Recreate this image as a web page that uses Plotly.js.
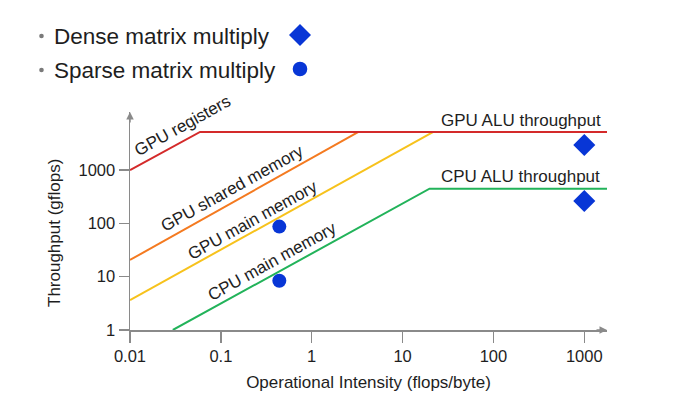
<!DOCTYPE html>
<html>
<head>
<meta charset="utf-8">
<script src="https://cdn.plot.ly/plotly-3.0.1.min.js"></script>
<style>html,body{margin:0;padding:0;background:#fff;}#chart{width:683px;height:420px;}</style>
</head>
<body>
<div id="chart"></div>
<script>
// ---- Data (log-log roofline) ----
const gpuRegistersX = [0.01, 0.059, 1800];
const gpuRegistersY = [1000, 5200, 5200];
const gpuSharedX = [0.01, 3.27];
const gpuSharedY = [20.6, 5200];
const gpuMainX = [0.01, 21.8];
const gpuMainY = [3.65, 5200];
const cpuMainX = [0.0296, 19.8, 1800];
const cpuMainY = [1, 447, 447];
const sparseX = [0.44, 0.44];
const sparseY = [87, 8.4];
const denseX = [1000, 1000];
const denseY = [2950, 263];
const xTickVals = [0.01, 0.1, 1, 10, 100, 1000];
const xTickText = ['0.01', '0.1', '1', '10', '100', '1000'];
const yTickVals = [1, 10, 100, 1000];
const yTickText = ['1', '10', '100', '1000'];
const legendLabels = ['Dense matrix multiply', 'Sparse matrix multiply'];
const lineLabels = ['GPU registers', 'GPU shared memory', 'GPU main memory', 'CPU main memory', 'GPU ALU throughput', 'CPU ALU throughput'];

const FONT = 'Liberation Sans, Arial, sans-serif';
const AX = '#8a8a8a';
const BLUE = '#0836d6';
const TXT = '#1e1e1e';

function line(x, y, color) {
  return {x: x, y: y, type: 'scatter', mode: 'lines', line: {color: color, width: 2}, hoverinfo: 'skip', showlegend: false};
}
const traces = [
  line(gpuSharedX, gpuSharedY, '#f47a20'),
  line(gpuMainX, gpuMainY, '#f7c21c'),
  line(gpuRegistersX, gpuRegistersY, '#d42a2a'),
  line(cpuMainX, cpuMainY, '#22b35a'),
  {x: sparseX, y: sparseY, type: 'scatter', mode: 'markers', marker: {symbol: 'circle', size: 14, color: BLUE}, name: legendLabels[1], showlegend: false, cliponaxis: false},
  {x: denseX, y: denseY, type: 'scatter', mode: 'markers', marker: {symbol: 'diamond', size: 17, color: BLUE}, name: legendLabels[0], showlegend: false, cliponaxis: false}
];

// pixel helpers for layout placement (plot area: x 130..607, y 112..330)
const L = 130, R = 607, T = 112, B = 330;
const px = v => (v - L) / (R - L);
const py = v => (B - v) / (B - T);

function lbl(text, xl, yl, angle, size) {
  return {text: text, x: xl, y: yl, xref: 'x', yref: 'y', showarrow: false, textangle: angle,
          font: {family: FONT, size: size, color: TXT}, xanchor: 'center', yanchor: 'middle'};
}
const annotations = [
  lbl(lineLabels[0], -1.417, 3.844, -29, 17),
  lbl(lineLabels[1], -0.877, 2.663, -29, 17),
  lbl(lineLabels[2], -0.657, 2.063, -29, 17),
  lbl(lineLabels[3], -0.437, 1.294, -29, 17),
  lbl(lineLabels[4], 2.303, 3.925, 0, 17),
  lbl(lineLabels[5], 2.303, 2.888, 0, 17),
  {text: legendLabels[0], x: px(52), y: py(36), xref: 'paper', yref: 'paper', showarrow: false, xanchor: 'left', yanchor: 'middle', font: {family: FONT, size: 22.5, color: TXT}},
  {text: legendLabels[1], x: px(52), y: py(70), xref: 'paper', yref: 'paper', showarrow: false, xanchor: 'left', yanchor: 'middle', font: {family: FONT, size: 22.5, color: TXT}},
  // y axis title
  {text: 'Throughput (gflops)', x: px(54), y: py(233), xref: 'paper', yref: 'paper', showarrow: false, textangle: -90, xanchor: 'center', yanchor: 'middle', font: {family: FONT, size: 17, color: TXT}},
  // axis arrows
  {text: '', x: 1, y: 0, xref: 'paper', yref: 'paper', showarrow: true, ax: -12, ay: 0, arrowhead: 2, arrowsize: 1, arrowwidth: 1.5, arrowcolor: AX},
  {text: '', x: 0, y: 1, xref: 'paper', yref: 'paper', showarrow: true, ax: 0, ay: 12, arrowhead: 2, arrowsize: 1, arrowwidth: 1.5, arrowcolor: AX}
];

function dot(cx, cy, r, color) {
  return {type: 'circle', xref: 'paper', yref: 'paper', xsizemode: 'pixel', ysizemode: 'pixel',
          xanchor: px(cx), yanchor: py(cy), x0: -r, x1: r, y0: -r, y1: r,
          fillcolor: color, line: {width: 0}};
}
const shapes = [
  dot(41.5, 36, 2.3, '#7a7a7a'),
  dot(41.5, 70, 2.3, '#7a7a7a'),
  {type: 'path', xref: 'paper', yref: 'paper', xsizemode: 'pixel', ysizemode: 'pixel',
   xanchor: px(300), yanchor: py(35), path: 'M -11 0 L 0 11 L 11 0 L 0 -11 Z', fillcolor: BLUE, line: {width: 0}},
  dot(300, 69, 7.3, BLUE)
];

const layout = {
  width: 683, height: 420,
  margin: {l: L, r: 683 - R, t: T, b: 420 - B, pad: 0},
  paper_bgcolor: '#fff', plot_bgcolor: '#fff',
  font: {family: FONT, color: TXT},
  showlegend: false,
  xaxis: {type: 'log', range: [-2, 3.25], tickvals: xTickVals, ticktext: xTickText,
          showline: true, linecolor: AX, linewidth: 1.5, ticks: 'outside', ticklen: 11, tickwidth: 1.5, tickcolor: AX,
          showgrid: false, zeroline: false, tickfont: {family: FONT, size: 16.5, color: TXT},
          title: {text: 'Operational Intensity (flops/byte)', font: {family: FONT, size: 17, color: TXT}, standoff: 12}},
  yaxis: {type: 'log', range: [0, 4.09], tickvals: yTickVals, ticktext: yTickText,
          showline: true, linecolor: AX, linewidth: 1.5, ticks: 'outside', ticklen: 10, tickwidth: 1.5, tickcolor: AX,
          showgrid: false, zeroline: false, tickfont: {family: FONT, size: 16.5, color: TXT}},
  annotations: annotations,
  shapes: shapes
};

Plotly.newPlot('chart', traces, layout, {displayModeBar: false, staticPlot: true});
</script>
</body>
</html>
